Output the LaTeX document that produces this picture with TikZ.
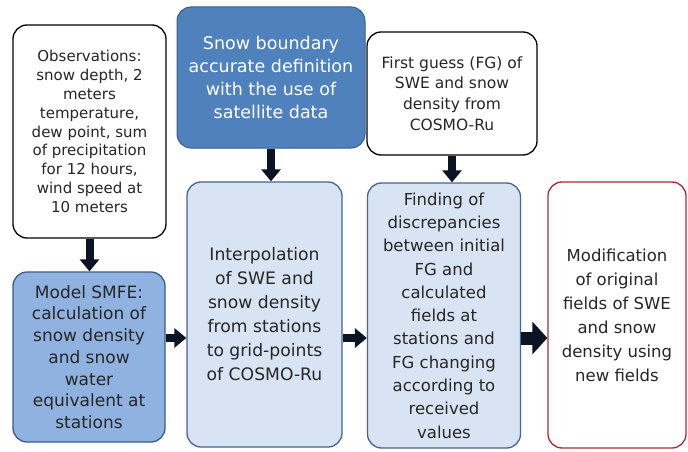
\documentclass[tikz,border=0pt]{standalone}
\usepackage{fontspec}
\setmainfont{DejaVu Sans}
\usetikzlibrary{arrows.meta}

\definecolor{satblue}{RGB}{79,129,189}
\definecolor{satedge}{RGB}{56,93,138}
\definecolor{modelblue}{RGB}{143,178,224}
\definecolor{paleblue}{RGB}{216,228,243}
\definecolor{paleedge}{RGB}{70,100,140}
\definecolor{modred}{RGB}{176,40,45}
\definecolor{inkgray}{RGB}{38,38,38}
\definecolor{arrowink}{RGB}{12,20,35}

\begin{document}
\begin{tikzpicture}[x=1pt,y=-1pt,
  box/.style={rounded corners=14pt,line width=1.3pt,align=center,inner sep=0pt,text=inkgray},
  flow/.style={arrowink,line width=8pt,-{Triangle[width=19pt,length=12pt]}},
  bigflow/.style={arrowink,line width=13pt,-{Triangle[width=32pt,length=15pt]}}]
  \fill[white] (0,0) rectangle (688,452);
  % inputs
  \node[box,draw=black,fill=white,minimum width=153pt,minimum height=213pt,
        font=\fontsize{15}{18.8}\selectfont] (obs) at (89.5,131.5)
        {Observations:\\snow depth, 2\\meters\\temperature,\\dew point, sum\\of precipitation\\for 12 hours,\\wind speed at\\10 meters};
  \node[box,draw=satedge,fill=satblue,text=white,line width=1pt,minimum width=188pt,minimum height=141pt,
        font=\fontsize{17.5}{22.7}\selectfont] (sat) at (271,77.5)
        {Snow boundary\\accurate definition\\with the use of\\satellite data};
  \node[box,draw=black,fill=white,minimum width=170pt,minimum height=123pt,
        font=\fontsize{15.5}{20.7}\selectfont] (fg) at (452,93.5)
        {First guess (FG) of\\SWE and snow\\density from\\COSMO-Ru};
  % processing chain
  \node[box,draw=satedge,fill=modelblue,minimum width=152pt,minimum height=170pt,
        font=\fontsize{17}{21.7}\selectfont] (smfe) at (89,357)
        {Model SMFE:\\calculation of\\snow density\\and snow\\water\\equivalent at\\stations};
  \node[box,draw=paleedge,fill=paleblue,minimum width=155pt,minimum height=265pt,
        font=\fontsize{17.2}{24}\selectfont] (interp) at (264.5,314.5)
        {Interpolation\\of SWE and\\snow density\\from stations\\to grid-points\\of COSMO-Ru};
  \node[box,draw=paleedge,fill=paleblue,minimum width=153pt,minimum height=265pt,
        font=\fontsize{16.5}{23.3}\selectfont] (find) at (444,315.5)
        {Finding of\\discrepancies\\between initial\\FG and\\calculated\\fields at\\stations and\\FG changing\\according to\\received\\values};
  \node[box,draw=modred,fill=white,minimum width=138pt,minimum height=266pt,
        font=\fontsize{16.5}{24}\selectfont] (modif) at (617,315)
        {Modification\\of original\\fields of SWE\\and snow\\density using\\new fields};
  \coordinate (row) at (0,338);
  \draw[flow] (obs.south) -- (obs.south |- smfe.north);
  \draw[flow] (sat.south) -- (sat.south |- interp.north);
  \draw[flow] (fg.south) -- (fg.south |- find.north);
  \draw[flow] (smfe.east |- row) -- (interp.west |- row);
  \draw[flow] (interp.east |- row) -- (find.west |- row);
  \draw[bigflow] (find.east |- row) -- (modif.west |- row);
\end{tikzpicture}
\end{document}
